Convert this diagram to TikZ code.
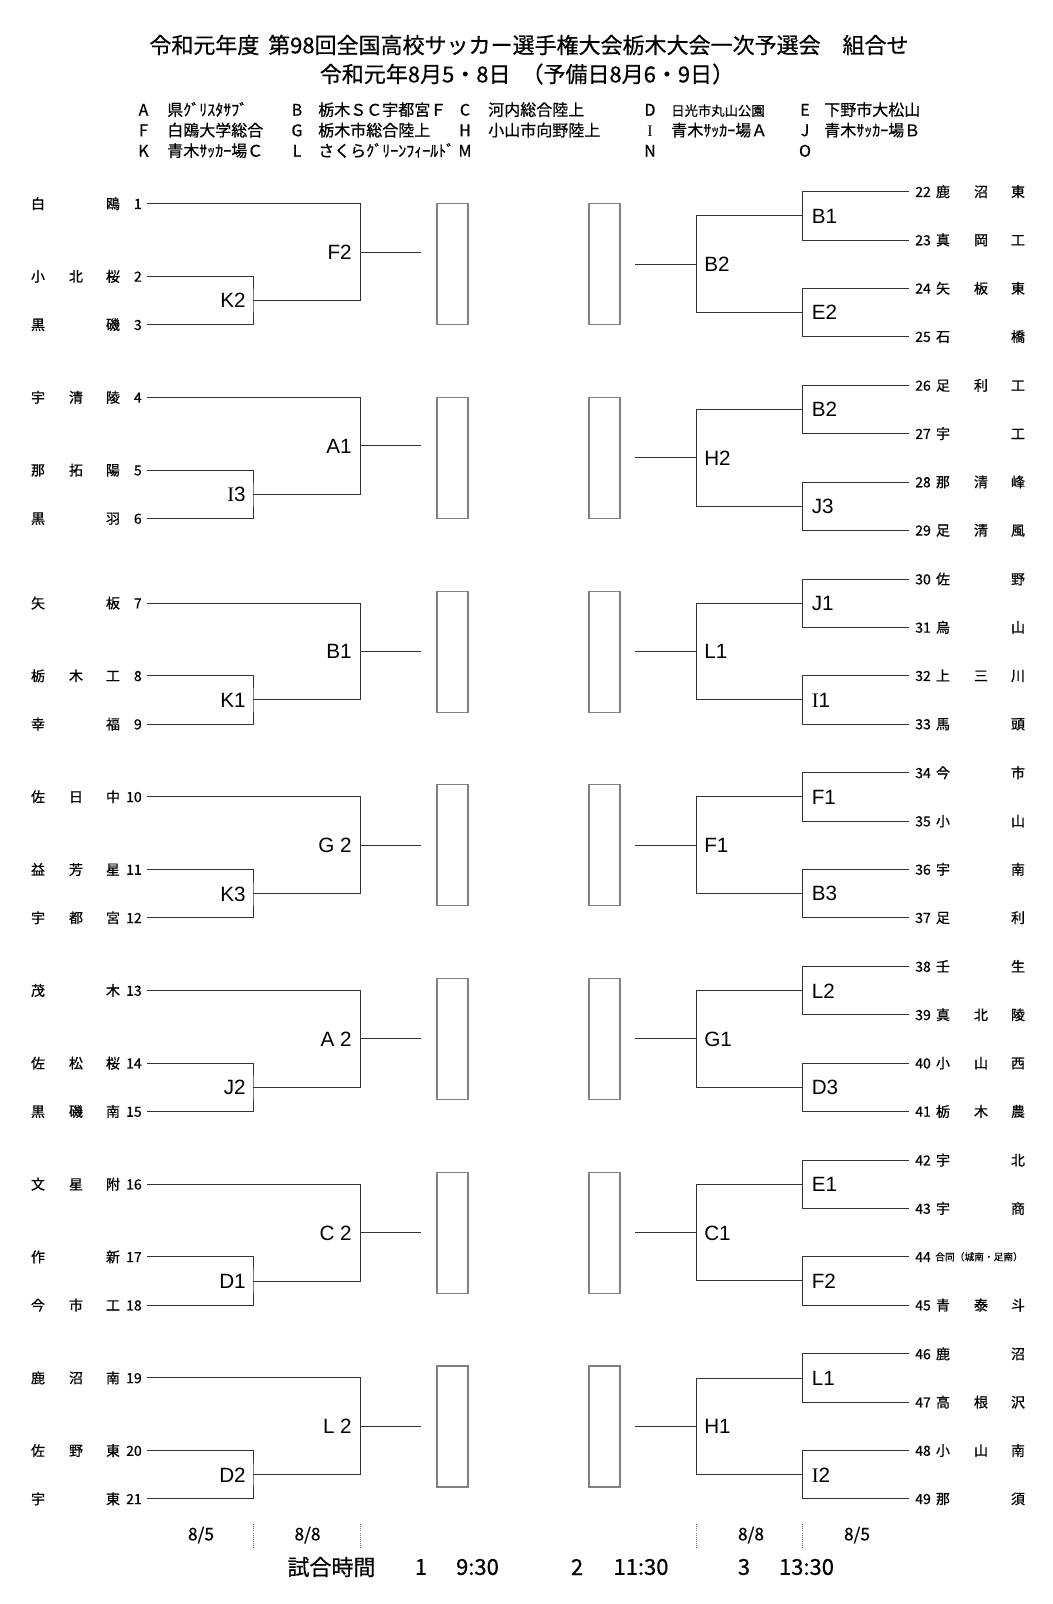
\documentclass[tikz,border=0pt]{standalone}
\usepackage{fontspec}
\setmainfont{Noto Sans CJK JP}
\newfontfamily\jpmedium{Noto Sans CJK JP}[FakeBold=0.6]
\newfontfamily\latinsans{Liberation Sans}
\newfontfamily\serifI{Liberation Serif}
\usepackage{tikz}

\tikzset{
  bline/.style={draw=black!80, line width=0.75pt},
  venuebox/.style={draw=black!50, line width=0.9pt},
  datesep/.style={draw=black!55, line width=0.6pt, densely dotted},
  seed/.style={font=\latinsans\fontsize{15.5}{18}\selectfont, inner sep=0pt, text height=11.1pt, text depth=0pt},
  team/.style={font=\jpmedium\fontsize{10.5}{12}\selectfont, inner sep=0pt, text height=7.9pt, text depth=0pt},
  teamsmall/.style={font=\jpmedium\fontsize{7.3}{9}\selectfont, inner sep=0pt, text height=5.5pt, text depth=0pt},
  legend/.style={font=\jpmedium\fontsize{12}{14}\selectfont, inner sep=0pt, text height=9pt, text depth=0pt},
  titletext/.style={font=\jpmedium\fontsize{16.5}{20}\selectfont, inner sep=0pt},
  datetext/.style={font=\jpmedium\fontsize{13}{15}\selectfont, inner sep=0pt},
}

\begin{document}
\begin{tikzpicture}[x=0.75pt,y=-0.75pt]

	\fill[white] (0,0) rectangle (1053,1604);

	% title
	\node[titletext] (title) at (529,45) {令和元年度\hspace{0.4em}第98回全国高校サッカー選手権大会栃木大会一次予選会　組合せ};
	\node[titletext] (dates) at (527,74) {令和元年8月5・8日\hspace{0.5em}（予備日8月6・9日）};

	% venues
	\foreach \y/\a/\ta/\b/\tb/\c/\tc/\d/\td/\e/\te in {
		109.7/A/県ｸﾞﾘｽﾀｻﾌﾞ/B/栃木ＳＣ宇都宮Ｆ/C/河内総合陸上/D/{\fontsize{10}{12}\selectfont 日光市丸山公園}/E/下野市大松山,
		130.2/F/白鴎大学総合/G/栃木市総合陸上/H/小山市向野陸上/{\serifI I}/青木ｻｯｶｰ場Ａ/J/青木ｻｯｶｰ場Ｂ,
		150.7/K/青木ｻｯｶｰ場Ｃ/L/さくらｸﾞﾘｰﾝﾌｨｰﾙﾄﾞ/M//N//O/}{
		\node[legend] (va\y) at (143.5,\y) {\a};
		\node[legend, anchor=west] (vta\y) at (167,\y) {\ta};
		\node[legend] (vb\y) at (297,\y) {\b};
		\node[legend, anchor=west] (vtb\y) at (318,\y) {\tb};
		\node[legend] (vc\y) at (465,\y) {\c};
		\node[legend, anchor=west] (vtc\y) at (488,\y) {\tc};
		\node[legend] (vd\y) at (650,\y) {\d};
		\node[legend, anchor=west] (vtd\y) at (671,\y) {\td};
		\node[legend] (ve\y) at (805,\y) {\e};
		\node[legend, anchor=west] (vte\y) at (824,\y) {\te};
	}

	% left side
	\foreach \k/\ly/\inn/\out in {1/203.7/K2/F2, 2/397.4/{\serifI I}3/A1, 3/603.1/K1/B1,
		4/796.8/K3/G 2, 5/990.5/J2/A 2, 6/1184.2/D1/C 2, 7/1377.9/D2/L 2}{
		\coordinate (l\k-1) at (147,\ly);
		\coordinate (l\k-2) at (147,\ly+72.7);
		\coordinate (l\k-3) at (147,\ly+121);
		\coordinate (l\k-in) at (253,\ly+96.85);
		\coordinate (l\k-jn) at (360.5,\ly+96.85);
		\coordinate (l\k-out) at (360.5,\ly+48.4);
		\coordinate (l\k-end) at (421,\ly+48.4);
		\draw[bline] (l\k-1) -| (l\k-jn) -- (l\k-in);
		\draw[bline] (l\k-2) -| (l\k-in) |- (l\k-3);
		\draw[bline] (l\k-out) -- (l\k-end);
		\node[seed, anchor=east] (lin\k) at (246,\ly+96.85) {\inn};
		\node[seed, anchor=east] (lout\k) at (352,\ly+48.4) {\out};
	}

	% right side
	\foreach \k/\ry/\ina/\inb/\semi in {1/191.7/B1/E2/B2, 2/385.4/B2/J3/H2, 3/579.1/J1/{\serifI I}1/L1,
		4/772.8/F1/B3/F1, 5/966.5/L2/D3/G1, 6/1160.2/E1/F2/C1, 7/1353.9/L1/{\serifI I}2/H1}{
		\coordinate (r\k-1) at (909,\ry);
		\coordinate (r\k-2) at (909,\ry+48.3);
		\coordinate (r\k-3) at (909,\ry+96.6);
		\coordinate (r\k-4) at (909,\ry+144.9);
		\coordinate (r\k-p) at (802.5,\ry+24.15);
		\coordinate (r\k-q) at (802.5,\ry+120.75);
		\coordinate (r\k-s) at (696.5,\ry+72.45);
		\coordinate (r\k-end) at (635,\ry+72.45);
		\draw[bline] (r\k-1) -| (r\k-p) |- (r\k-2);
		\draw[bline] (r\k-3) -| (r\k-q) |- (r\k-4);
		\draw[bline] (r\k-p) -| (r\k-s) |- (r\k-q);
		\draw[bline] (r\k-s) -- (r\k-end);
		\node[seed, anchor=west] (rina\k) at (811.5,\ry+24.15) {\ina};
		\node[seed, anchor=west] (rinb\k) at (811.5,\ry+120.75) {\inb};
		\node[seed, anchor=west] (rsemi\k) at (704,\ry+72.45) {\semi};
		% final boxes
		\draw[venuebox] (437,\ry+12) rectangle (468,\ry+133);
		\draw[venuebox] (589,\ry+12) rectangle (620,\ry+133);
	}

	% teams, left
	\foreach \n/\y/\p/\q/\r in {1/203.7/白//鴎, 2/276.4/小/北/桜, 3/324.7/黒//磯,
		4/397.4/宇/清/陵, 5/470.1/那/拓/陽, 6/518.4/黒//羽,
		7/603.1/矢//板, 8/675.8/栃/木/工, 9/724.1/幸//福,
		10/796.8/佐/日/中, 11/869.5/益/芳/星, 12/917.8/宇/都/宮,
		13/990.5/茂//木, 14/1063.2/佐/松/桜, 15/1111.5/黒/磯/南,
		16/1184.2/文/星/附, 17/1256.9/作//新, 18/1305.2/今/市/工,
		19/1377.9/鹿/沼/南, 20/1450.6/佐/野/東, 21/1498.9/宇//東}{
		\node[team, anchor=east] (ln\n) at (142,\y) {\n};
		\node[team] (la\n) at (38,\y) {\p};
		\node[team] (lb\n) at (76,\y) {\q};
		\node[team] (lc\n) at (113,\y) {\r};
	}

	% teams, right
	\foreach \n/\y/\p/\q/\r in {22/191.7/鹿/沼/東, 23/240.0/真/岡/工, 24/288.3/矢/板/東, 25/336.6/石//橋,
		26/385.4/足/利/工, 27/433.7/宇//工, 28/482.0/那/清/峰, 29/530.3/足/清/風,
		30/579.1/佐//野, 31/627.4/烏//山, 32/675.7/上/三/川, 33/724.0/馬//頭,
		34/772.8/今//市, 35/821.1/小//山, 36/869.4/宇//南, 37/917.7/足//利,
		38/966.5/壬//生, 39/1014.8/真/北/陵, 40/1063.1/小/山/西, 41/1111.4/栃/木/農,
		42/1160.2/宇//北, 43/1208.5/宇//商, 45/1305.1/青/泰/斗,
		46/1353.9/鹿//沼, 47/1402.2/高/根/沢, 48/1450.5/小/山/南, 49/1498.8/那//須}{
		\node[team, anchor=west] (rn\n) at (915,\y) {\n};
		\node[team] (ra\n) at (943,\y) {\p};
		\node[team] (rb\n) at (981,\y) {\q};
		\node[team] (rc\n) at (1018,\y) {\r};
	}
	\node[team, anchor=west] (rn44) at (915,1256.8) {44};
	\node[teamsmall, anchor=west] (ra44) at (935,1256.8) {合同（城南・足南）};

	% days and kick-off times
	\node[datetext] (day1) at (201,1535) {8/5};
	\node[datetext] (day2) at (307.5,1535) {8/8};
	\node[datetext] (day3) at (751,1535) {8/8};
	\node[datetext] (day4) at (857,1535) {8/5};
	\foreach \x in {253,360.5,696.5,802.5}
		\draw[datesep] (\x,1524) -- (\x,1549);
	\node[titletext] (kick) at (331.5,1567) {試合時間};
	\node[titletext] (k1) at (421,1567) {1};
	\node[titletext] (t1) at (477.5,1567) {9:30};
	\node[titletext] (k2) at (577,1567) {2};
	\node[titletext] (t2) at (641,1567) {11:30};
	\node[titletext] (k3) at (744,1567) {3};
	\node[titletext] (t3) at (806.5,1567) {13:30};

\end{tikzpicture}
\end{document}
